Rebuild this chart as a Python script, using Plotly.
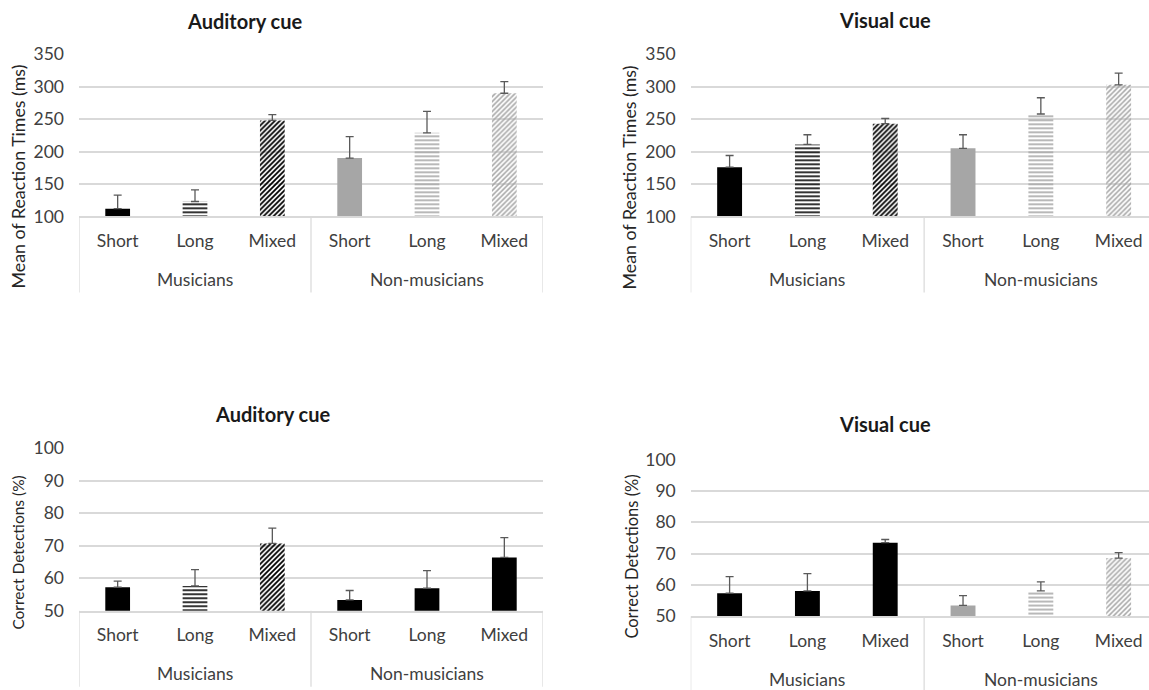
import plotly.graph_objects as go

# ---------------- data ----------------
groups = ["Musicians", "Non-musicians"]
conditions = ["Short", "Long", "Mixed"]

rt_auditory = [112, 123, 248, 190, 229, 290]
rt_auditory_err = [21, 18, 9, 33, 33, 18]
rt_visual = [176, 211, 243, 205, 258, 303]
rt_visual_err = [18, 15, 8, 21, 25, 18]
cd_auditory = [57.2, 57.6, 70.7, 53.3, 56.9, 66.4]
cd_auditory_err = [1.9, 5.0, 4.7, 2.9, 5.4, 6.1]
cd_visual = [57.4, 58.1, 73.5, 53.5, 58.1, 68.6]
cd_visual_err = [5.3, 5.5, 1.0, 3.1, 2.9, 1.7]

panel_titles = ["Auditory cue", "Visual cue", "Auditory cue", "Visual cue"]
rt_title = "Mean of Reaction Times (ms)"
cd_title = "Correct Detections (%)"

# ---------------- styles ----------------
BLACK = "#000000"
GRAY = "#a6a6a6"
GRID = "#d9d9d9"
TXT = "#404040"
FONT = "Lato"

keys = [f"{g} {c}" for g in groups for c in conditions]
ticktext = [c for g in groups for c in conditions]

styles = [
    dict(colors=[BLACK] * 3 + [GRAY] * 3, shapes=["", "-", "/", "", "-", "/"]),
    dict(colors=[BLACK] * 3 + [GRAY] * 3, shapes=["", "-", "/", "", "-", "/"]),
    dict(colors=[BLACK] * 6, shapes=["", "-", "/", "", "", ""]),
    dict(colors=[BLACK] * 3 + [GRAY] * 3, shapes=["", "", "", "", "-", "/"]),
]
values = [rt_auditory, rt_visual, cd_auditory, cd_visual]
errors = [rt_auditory_err, rt_visual_err, cd_auditory_err, cd_visual_err]

W, H = 1149, 690
# measured vertical mapping of the capture pipeline: shown = 0.969 * set + 10.7
VS, VO = 0.969, 10.7
def px(x):
    return x / W
def py(y):
    return 1 - ((y - VO) / VS) / H

# panel geometry (target pixels)
panels = [
    dict(x0=79, x1=543, ytop=54, ybot=216, yr=[100, 350], dt=50, xr=[-0.5, 5.5], boxb=292, grpy=279),
    dict(x0=690.7, x1=1149, ytop=54, ybot=216, yr=[100, 350], dt=50, xr=[-0.5, 5.39], boxb=292, grpy=279),
    dict(x0=79, x1=543, ytop=447.7, ybot=610, yr=[50, 100], dt=10, xr=[-0.5, 5.5], boxb=686, grpy=673),
    dict(x0=690.7, x1=1149, ytop=459, ybot=615.7, yr=[50, 100], dt=10, xr=[-0.5, 5.39], boxb=692, grpy=679),
]
titles_pos = [(245, 21), (885, 20), (273, 413), (885, 423)]
ytitle_pos = [(18, 176, rt_title, 17.8), (629, 177, rt_title, 17.8), (18, 552, cd_title, 15.5), (632, 556, cd_title, 16.5)]

fig = go.Figure()
layout = {}
annotations = []
shapes = []

for i, p in enumerate(panels):
    n = "" if i == 0 else str(i + 1)
    st = styles[i]
    pat_sol = []
    pat_size = []
    for c, s in zip(st["colors"], st["shapes"]):
        if s == "-":
            pat_sol.append(0.4)
            pat_size.append(4)
        else:
            pat_sol.append(0.5 if c == BLACK else 0.45)
            pat_size.append(3.5)
    fig.add_trace(go.Bar(
        x=keys, y=values[i],
        xaxis="x" + n, yaxis="y" + n,
        marker=dict(
            color=st["colors"],
            line=dict(width=0),
            pattern=dict(shape=st["shapes"], fgcolor=st["colors"], bgcolor="white",
                         size=pat_size, solidity=pat_sol, fillmode="replace"),
        ),
        error_y=dict(type="data", array=errors[i], arrayminus=[0] * 6, symmetric=False,
                     color="#5a5a5a", thickness=1.3, width=4),
        width=0.32,
        showlegend=False,
        hoverinfo="skip",
    ))
    layout["xaxis" + n] = dict(
        domain=[px(p["x0"]), px(p["x1"])], anchor="y" + n,
        type="category", range=p["xr"],
        tickmode="array", tickvals=keys, ticktext=ticktext,
        ticks="", ticklabelstandoff=8,
        showline=True, linecolor=GRID, linewidth=1.5,
        showgrid=False, zeroline=False,
        tickfont=dict(family=FONT, size=17.5, color=TXT),
    )
    layout["yaxis" + n] = dict(
        domain=[py(p["ybot"]), py(p["ytop"])], anchor="x" + n,
        range=p["yr"], dtick=p["dt"], tick0=p["yr"][0],
        showgrid=True, gridcolor=GRID, gridwidth=1.5,
        zeroline=False, showline=False, ticks="",
        ticklabelstandoff=14,
        tickfont=dict(family=FONT, size=17.5, color=TXT),
    )
    depth = (p["boxb"] - p["ybot"]) / (p["ybot"] - p["ytop"])
    for xv in [-0.5, 2.5, 5.5]:
        shapes.append(dict(type="line", xref="x" + n, yref="y" + n + " domain",
                           x0=xv, x1=xv, y0=0, y1=-depth,
                           line=dict(color=GRID, width=1.2)))
    gy = -(p["grpy"] - p["ybot"]) / (p["ybot"] - p["ytop"])
    for gi, g in enumerate(groups):
        annotations.append(dict(text=g, xref="x" + n, yref="y" + n + " domain",
                                x=1 + 3 * gi, y=gy, showarrow=False,
                                xanchor="center", yanchor="middle",
                                font=dict(family=FONT, size=17.5, color=TXT)))
    tx, ty = titles_pos[i]
    annotations.append(dict(text="<b>" + panel_titles[i] + "</b>", xref="paper", yref="paper",
                            x=px(tx), y=py(ty), showarrow=False,
                            xanchor="center", yanchor="middle",
                            font=dict(family=FONT, size=20, color="#1a1a1a")))
    yx, yy, yt, fs = ytitle_pos[i]
    annotations.append(dict(text=yt, xref="paper", yref="paper",
                            x=px(yx), y=py(yy), showarrow=False, textangle=-90,
                            xanchor="center", yanchor="middle",
                            font=dict(family=FONT, size=fs, color="#262626")))

fig.update_layout(
    width=W, height=H,
    margin=dict(l=0, r=0, t=0, b=0),
    paper_bgcolor="white", plot_bgcolor="white",
    showlegend=False,
    bargap=0.68,
    font=dict(family=FONT, size=17.5, color=TXT),
    annotations=annotations,
    shapes=shapes,
    **layout,
)

fig.write_html(
    "out.html",
    config={"displayModeBar": False},
    post_script="document.body.style.margin='0px';document.body.style.overflow='hidden';",
)
